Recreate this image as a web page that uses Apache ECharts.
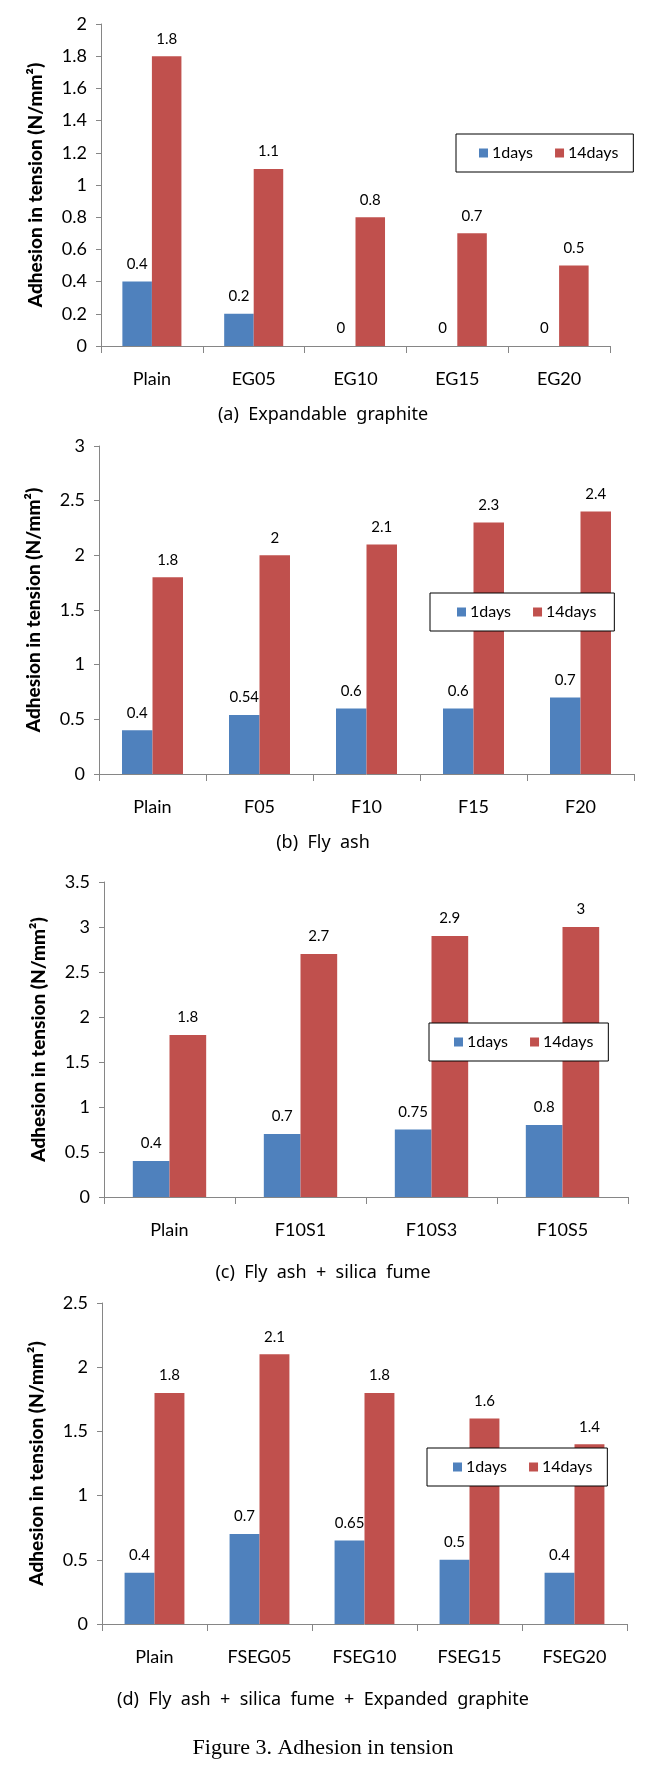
<!DOCTYPE html>
<html>
<head>
<meta charset="utf-8">
<script src="https://cdn.jsdelivr.net/npm/echarts@6/dist/echarts.min.js"></script>
<style>
html,body{margin:0;padding:0;background:#fff;}
#chart{width:651px;height:1777px;}
</style>
</head>
<body>
<div id="chart"></div>
<script>
// ---- data ----
const catsA = ['Plain', 'EG05', 'EG10', 'EG15', 'EG20'];
const day1A = [0.4, 0.2, 0, 0, 0];
const day14A = [1.8, 1.1, 0.8, 0.7, 0.5];

const catsB = ['Plain', 'F05', 'F10', 'F15', 'F20'];
const day1B = [0.4, 0.54, 0.6, 0.6, 0.7];
const day14B = [1.8, 2, 2.1, 2.3, 2.4];

const catsC = ['Plain', 'F10S1', 'F10S3', 'F10S5'];
const day1C = [0.4, 0.7, 0.75, 0.8];
const day14C = [1.8, 2.7, 2.9, 3];

const catsD = ['Plain', 'FSEG05', 'FSEG10', 'FSEG15', 'FSEG20'];
const day1D = [0.4, 0.7, 0.65, 0.5, 0.4];
const day14D = [1.8, 2.1, 1.8, 1.6, 1.4];

const yMax = [2, 3, 3.5, 2.5];
const yInterval = [0.2, 0.5, 0.5, 0.5];

const seriesNames = ['1days', '14days'];
const captions = ['(a)  Expandable  graphite', '(b)  Fly  ash', '(c)  Fly  ash  +  silica  fume',
  '(d)  Fly  ash  +  silica  fume  +  Expanded  graphite'];
const figureCaption = 'Figure 3. Adhesion in tension';
const yTitle = 'Adhesion in tension (N/mm\u00B2)';

// ---- layout ----
const BLUE = '#4F81BD', RED = '#C0504D', AXIS = '#868686';
const FONT = 'Lato';
const grids = [
  {left: 101, top: 24, width: 509, height: 322},
  {left: 99, top: 446, width: 535, height: 328},
  {left: 104, top: 882, width: 524, height: 315},
  {left: 102, top: 1303, width: 525, height: 321}
];
const gaps = ['42%', '43%', '44%', '43%'];
const legendPos = [
  {left: 456, top: 134, padding: [11, 15, 11, 23]},
  {left: 430, top: 593, padding: [11, 18, 11, 27]},
  {left: 429, top: 1023, padding: [11, 15, 11, 25]},
  {left: 427, top: 1448, padding: [11, 15, 11, 26]}
];
const captionY = [415, 843, 1273, 1700];
const cats = [catsA, catsB, catsC, catsD];
const d1 = [day1A, day1B, day1C, day1D];
const d14 = [day14A, day14B, day14C, day14D];

const chart = echarts.init(document.getElementById('chart'), null, {renderer: 'canvas'});

const xAxis = [], yAxis = [], series = [], legend = [];
for (let i = 0; i < 4; i++) {
  xAxis.push({
    type: 'category', gridIndex: i, data: cats[i],
    axisLine: {show: true, lineStyle: {color: AXIS, width: 1}},
    axisTick: {show: true, alignWithLabel: false, length: 7, lineStyle: {color: AXIS}},
    axisLabel: {color: '#000', fontFamily: FONT, fontSize: 18, margin: 24},
    splitLine: {show: false}
  });
  yAxis.push({
    type: 'value', gridIndex: i, min: 0, max: yMax[i], interval: yInterval[i],
    axisLine: {show: true, lineStyle: {color: AXIS, width: 1}},
    axisTick: {show: true, length: 5, lineStyle: {color: AXIS}},
    axisLabel: {color: '#000', fontFamily: FONT, fontSize: 18, margin: 14},
    splitLine: {show: false},
    name: yTitle, nameLocation: 'middle', nameRotate: 90, nameGap: 56,
    nameTextStyle: {color: '#000', fontFamily: FONT, fontWeight: 900, fontSize: 19}
  });
  const lbl = {show: true, position: 'top', distance: 10, color: '#000', fontFamily: FONT, fontSize: 15};
  series.push({
    type: 'bar', name: seriesNames[0], xAxisIndex: i, yAxisIndex: i, data: d1[i],
    itemStyle: {color: BLUE}, barGap: '0%', barCategoryGap: gaps[i], label: lbl
  });
  series.push({
    type: 'bar', name: seriesNames[1], xAxisIndex: i, yAxisIndex: i, data: d14[i],
    itemStyle: {color: RED}, barGap: '0%', barCategoryGap: gaps[i], label: lbl
  });
  legend.push({
    data: seriesNames, orient: 'horizontal',
    left: legendPos[i].left, top: legendPos[i].top, padding: legendPos[i].padding,
    itemWidth: 9, itemHeight: 9, itemGap: 22, icon: 'rect',
    borderColor: '#000', borderWidth: 1, backgroundColor: '#fff',
    textStyle: {color: '#000', fontFamily: FONT, fontSize: 16, padding: [0, 0, 0, -1]},
    selectedMode: false
  });
}

const graphic = [];
for (let i = 0; i < 4; i++) {
  graphic.push({
    type: 'text', x: 323, y: captionY[i],
    style: {text: captions[i], fill: '#000', font: '18px "Noto Sans"', textAlign: 'center', textVerticalAlign: 'middle'}
  });
}
graphic.push({
  type: 'text', x: 323, y: 1748,
  style: {text: figureCaption, fill: '#000', font: '22px "Liberation Serif"', textAlign: 'center', textVerticalAlign: 'middle'}
});

chart.setOption({
  animation: false,
  backgroundColor: '#fff',
  grid: grids.map(g => Object.assign({containLabel: false}, g)),
  xAxis, yAxis, series, legend, graphic
});
</script>
</body>
</html>
